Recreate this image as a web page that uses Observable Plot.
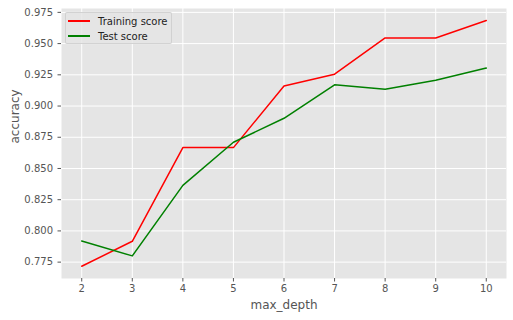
<!DOCTYPE html>
<html>
<head>
<meta charset="utf-8">
<script src="https://cdn.jsdelivr.net/npm/d3@7"></script>
<script src="https://cdn.jsdelivr.net/npm/@observablehq/plot@0.6"></script>
<style>
  html, body { margin: 0; padding: 0; background: #fff; }
  #wrap { position: relative; width: 513px; height: 320px; font-family: "DejaVu Sans", sans-serif; }
  #legend { position: absolute; left: 65px; top: 12px; width: 107px; height: 32px;
    background: rgba(229,229,229,0.8); border: 1px solid rgba(204,204,204,0.8); border-radius: 2px;
    font-size: 10px; color: #222; box-sizing: border-box; }
  .row { position: absolute; left: 0; height: 14px; display: flex; align-items: center; }
  .sw { display: inline-block; width: 22px; height: 1.5px; margin-left: 2px; margin-right: 8px; }
</style>
</head>
<body>
<div id="wrap"></div>
<script>
const maxDepth = [2, 3, 4, 5, 6, 7, 8, 9, 10];
const trainingScore = [0.7717, 0.7917, 0.8667, 0.8667, 0.9160, 0.9255, 0.9545, 0.9545, 0.9685];
const testScore = [0.7920, 0.7800, 0.8365, 0.8710, 0.8902, 0.9170, 0.9135, 0.9206, 0.9304];
const seriesNames = ["Training score", "Test score"];
const seriesColors = ["red", "green"];
const yTicks = [0.775, 0.800, 0.825, 0.850, 0.875, 0.900, 0.925, 0.950, 0.975];
const xTicks = [2, 3, 4, 5, 6, 7, 8, 9, 10];
const xLabel = "max_depth";
const yLabel = "accuracy";

const rows = [];
maxDepth.forEach((d, i) => rows.push({depth: d, score: trainingScore[i], series: seriesNames[0]}));
maxDepth.forEach((d, i) => rows.push({depth: d, score: testScore[i], series: seriesNames[1]}));

const chart = Plot.plot({
  width: 513,
  height: 320,
  marginLeft: 61,
  marginRight: 7,
  marginTop: 8,
  marginBottom: 42,
  style: {fontFamily: "DejaVu Sans, sans-serif", fontSize: "10px", background: "#fff"},
  x: {domain: [1.6, 10.4], ticks: xTicks},
  y: {domain: [0.7619, 0.9781], ticks: yTicks},
  color: {domain: seriesNames, range: seriesColors},
  marks: [
    Plot.frame({fill: "#E5E5E5", stroke: null}),
    Plot.gridX(xTicks, {stroke: "white", strokeOpacity: 1, strokeWidth: 1}),
    Plot.gridY(yTicks, {stroke: "white", strokeOpacity: 1, strokeWidth: 1}),
    Plot.axisX(xTicks, {tickSize: 3.5, tickPadding: 3, stroke: "#555", fill: "#555", label: null, fontSize: 10}),
    Plot.axisY(yTicks, {tickSize: 3.5, tickPadding: 5, stroke: "#555", fill: "#555", label: null, fontSize: 10, tickFormat: d3.format(".3f")}),
    Plot.line(rows, {x: "depth", y: "score", z: "series", stroke: "series", strokeWidth: 1.5}),
    Plot.text([xLabel], {frameAnchor: "bottom", dy: 30, fill: "#555", fontSize: 12}),
    Plot.text([yLabel], {frameAnchor: "left", dx: -46, rotate: -90, fill: "#555", fontSize: 12})
  ]
});

const wrap = document.getElementById("wrap");
wrap.appendChild(chart);
const legend = document.createElement("div");
legend.id = "legend";
seriesNames.forEach((name, i) => {
  const r = document.createElement("div");
  r.className = "row";
  r.style.top = (i === 0 ? 1 : 16) + "px";
  const sw = document.createElement("span");
  sw.className = "sw";
  sw.style.background = seriesColors[i];
  r.appendChild(sw);
  const t = document.createElement("span");
  t.textContent = name;
  r.appendChild(t);
  legend.appendChild(r);
});
wrap.appendChild(legend);
</script>
</body>
</html>
